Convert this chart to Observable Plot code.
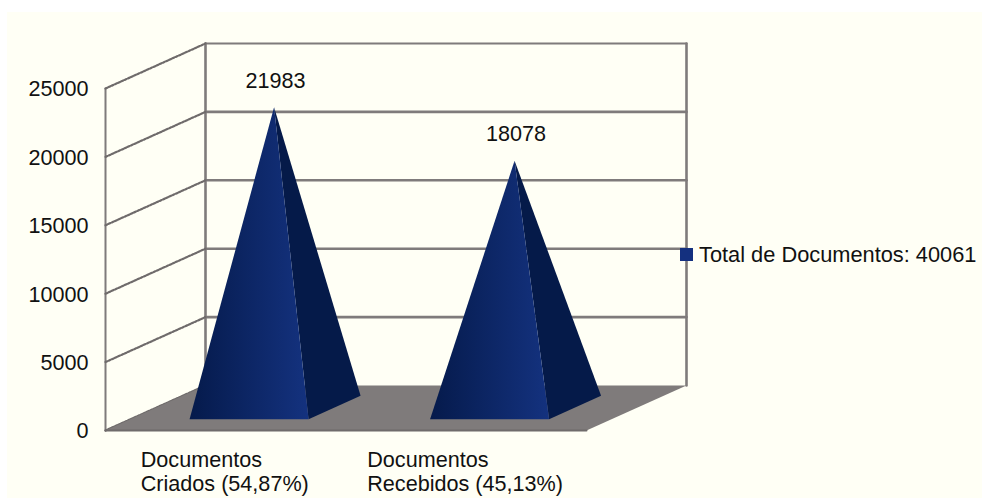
<!DOCTYPE html>
<html>
<head>
<meta charset="utf-8">
<script src="https://cdn.jsdelivr.net/npm/d3@7"></script>
<script src="https://cdn.jsdelivr.net/npm/@observablehq/plot@0.6"></script>
<style>
  html, body { margin: 0; padding: 0; background: #fff; width: 982px; height: 498px; overflow: hidden; }
  #panel { position: absolute; left: 7px; top: 12px; right: 0; bottom: 0; background: #fffff5; }
  #chart { position: absolute; left: 0; top: 0; }
  #chart svg { background: transparent; overflow: visible; display: block; }
  #legend { position: absolute; left: 680px; top: 241.5px; display: flex; align-items: center; font: 21.8px "Liberation Sans", sans-serif; color: #111; white-space: nowrap; }
  #legend i { display: block; width: 13px; height: 13px; background: #14307f; margin-right: 6px; }
</style>
</head>
<body>
<div id="panel"></div>
<div id="chart"></div>
<div id="legend"><i></i><span>Total de Documentos: 40061</span></div>
<script>
const categories = ["Documentos Criados", "Documentos Recebidos"];
const values = [21983, 18078];
const labelLine1 = ["Documentos", "Documentos"];
const labelLine2 = ["Criados (54,87%)", "Recebidos (45,13%)"];
const yTicks = [0, 5000, 10000, 15000, 20000, 25000];
const legendText = "Total de Documentos: 40061";

const font = '"Liberation Sans", sans-serif';
const fontSize = 21.6;
const gray = "#7f7b7b";
const ink = "#111";
// Oblique depth, in scale units: one full unit of depth moves a point this far.
const depthX = 100 / 240.5;
const depthY = 45 / 342 * 25000;
const at = (c, v, z) => ({ x: c + z * depthX, y: v + z * depthY });
const yMax = yTicks[yTicks.length - 1];
const nCat = categories.length;

const backGrid = yTicks.slice(1).map(v => [at(0, v, 1), at(nCat, v, 1)]);
const sideGrid = yTicks.map(v => [at(0, v, 0), at(0, v, 1)]);
const floor = [at(0, 0, 0), at(0, 0, 1), at(nCat, 0, 1), at(nCat, 0, 0)];

const half = 0.2474, zFront = 0.25, zBack = 0.77;
const faces = values.map((v, i) => {
  const c = i + 0.493;
  const apex = at(c, v, 0.5);
  return {
    front: [at(c - half, 0, zFront), at(c + half, 0, zFront), apex],
    side: [at(c + half, 0, zFront), at(c + half, 0, zBack), apex],
    apex,
    value: v
  };
});

const lineOf = (pts, o) => Plot.line(pts, { x: "x", y: "y", ...o });
const catLabel = (lines, i, dx, dy) => Plot.text(lines, {
  x: (d, j) => j + 0.5, y: () => 0, text: d => d, textAnchor: "start",
  dx, dy, fontSize, fontFamily: font, fill: ink, filter: (d, j) => j === i
});

const marks = [
  () => {
    const defs = d3.create("svg:defs");
    const g = defs.append("linearGradient").attr("id", "pyr").attr("x1", 0).attr("x2", 1).attr("y1", 0).attr("y2", 0);
    g.append("stop").attr("offset", "0%").attr("stop-color", "#051a4b");
    g.append("stop").attr("offset", "100%").attr("stop-color", "#14327f");
    return defs.node();
  },
  ...backGrid.map((l, i) => lineOf(l, { stroke: gray, strokeWidth: i === backGrid.length - 1 ? 2 : 2.6 })),
  lineOf([at(0, 0, 1), at(0, yMax, 1)], { stroke: gray, strokeWidth: 2.6 }),
  lineOf([at(nCat, 0, 1), at(nCat, yMax, 1)], { stroke: gray, strokeWidth: 2.6 }),
  lineOf([at(0, 0, 0), at(0, yMax, 0)], { stroke: gray, strokeWidth: 2 }),
  ...sideGrid.map(l => lineOf(l, { stroke: "#6f6b6b", strokeWidth: 2.2, strokeDasharray: "2 1.5" })),
  lineOf(floor, { fill: gray, stroke: "none" }),
  lineOf([at(0, 0, 0), at(nCat, 0, 0)], { stroke: "#6f6b6b", strokeWidth: 2 }),
  ...faces.flatMap(f => [
    lineOf(f.side, { fill: "#051a49", stroke: "none" }),
    lineOf(f.front, { fill: "url(#pyr)", stroke: "none" })
  ]),
  Plot.text(faces, { x: d => d.apex.x, y: d => d.apex.y, text: d => String(d.value), dx: 1.5, dy: -26.5, fontSize, fontFamily: font, fill: ink }),
  catLabel(labelLine1, 0, -85, 30),
  catLabel(labelLine2, 0, -85, 54),
  catLabel(labelLine1, 1, -99, 30),
  catLabel(labelLine2, 1, -99, 54),
  Plot.axisY(yTicks, { tickSize: 0, tickPadding: 17, dy: 1, label: null, tickFormat: d => String(d), fontSize, fontFamily: font, fill: ink })
];

const chart = Plot.plot({
  width: 982,
  height: 498,
  marginLeft: 105,
  marginRight: 396,
  marginTop: 88,
  marginBottom: 68,
  style: { background: "transparent", fontFamily: font, fontSize: fontSize + "px", overflow: "visible" },
  x: { domain: [0, nCat], axis: null },
  y: { domain: [0, yMax], label: null },
  marks
});
document.getElementById("chart").append(chart);
document.querySelector("#legend span").textContent = legendText;
</script>
</body>
</html>
